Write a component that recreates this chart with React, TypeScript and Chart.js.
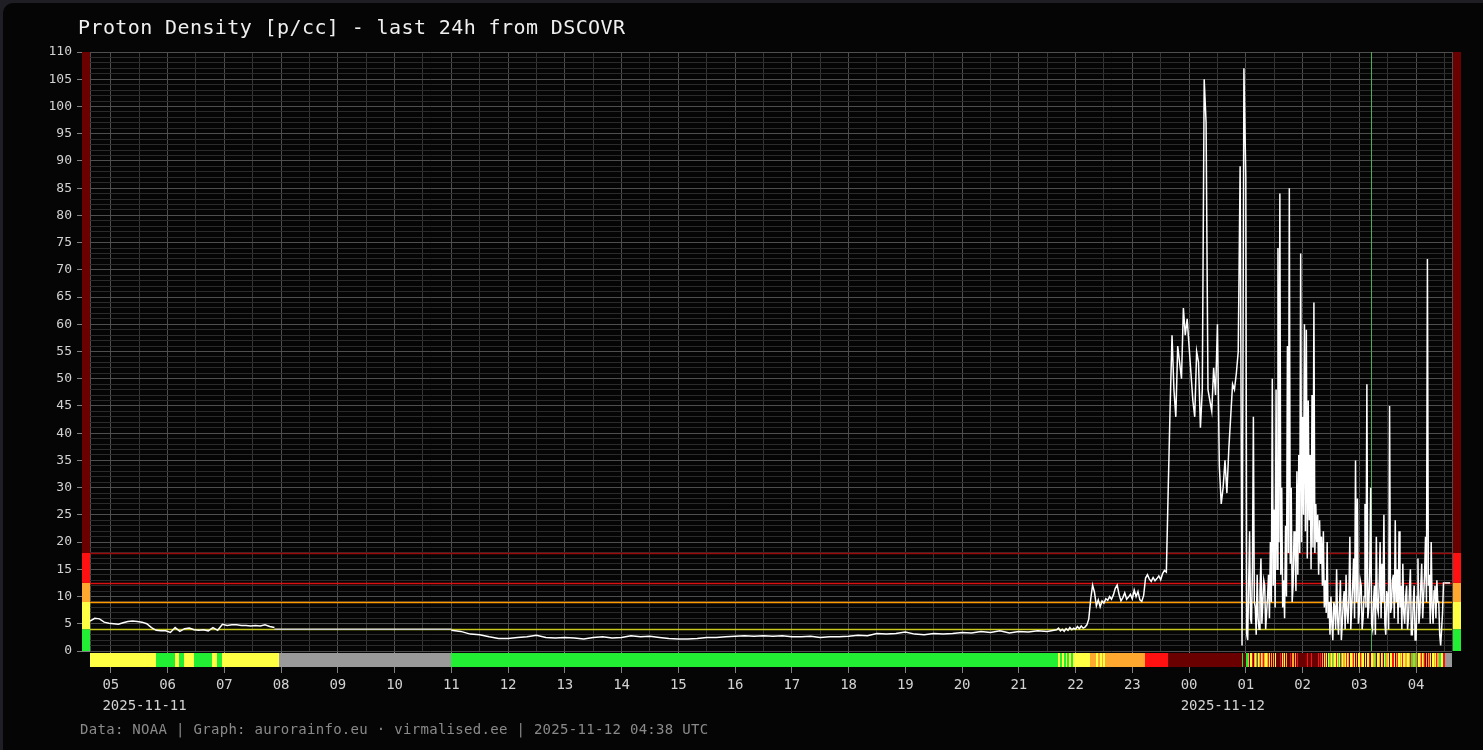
import React, { useEffect, useRef } from "react";
import { Chart, registerables } from "chart.js";

Chart.register(...registerables);

// ---------- text ----------
const TITLE = "Proton Density [p/cc] - last 24h from DSCOVR";
const FOOTER = "Data: NOAA | Graph: aurorainfo.eu · virmalised.ee | 2025-11-12 04:38 UTC";

// ---------- time window (day 0 = 2025-11-11, day 1 = 2025-11-12) ----------
const WINDOW_START = "04:38";
const WINDOW_HOURS = 24;
const dateLabelTexts = ["2025-11-11", "2025-11-12"];
const dateLabelTimes = ["05:00", "00:00"];
const dateLabelDays = [0, 1];
const MARKER_TIME = "03:12"; // green vertical marker, day 1
const HOLD_UNTIL = "04:36"; // last value held until, day 1

// ---------- density levels ----------
const levelBounds = [4, 9, 12.5, 18];
const levelColors = ["#22ee33", "#ffff44", "#ffa830", "#ff1111", "#6a0000"];
const levelLineColors = ["#c8c81e", "#ff9900", "#d81010", "#9a0a0a"];
const NO_DATA_COLOR = "#9a9a9a";

// ---------- proton density series (p/cc) ----------
const morningStart = "04:38";
const morningStep = 5; // minutes
const morningDensity = [
  5.5, 6.0, 5.9, 5.3, 5.1, 5.0, 4.9, 5.2, 5.4, 5.5,
  5.4, 5.3, 5.0, 4.3, 3.8, 3.7, 3.7, 3.4, 4.3, 3.6,
  4.1, 4.2, 3.9, 3.8, 3.9, 3.7, 4.3, 3.8, 4.9, 4.7,
  4.8, 4.8, 4.7, 4.7, 4.6, 4.7, 4.6, 4.8, 4.5, 4.3,
];

const quietStart = "11:00";
const quietStep = 10;
const quietDensity = [
  3.8, 3.6, 3.1, 3.0, 2.6, 2.3, 2.3, 2.5, 2.6, 2.9,
  2.5, 2.4, 2.5, 2.4, 2.2, 2.5, 2.6, 2.4, 2.5, 2.8,
  2.6, 2.7, 2.5, 2.3, 2.2, 2.2, 2.3, 2.5, 2.5, 2.6,
  2.7, 2.8, 2.7, 2.8, 2.7, 2.8, 2.6, 2.6, 2.7, 2.5,
  2.6, 2.6, 2.7, 2.9, 2.8, 3.2, 3.1, 3.2, 3.5, 3.1,
  3.0, 3.2, 3.1, 3.2, 3.4, 3.3, 3.6, 3.4, 3.7, 3.3,
  3.6, 3.5, 3.7, 3.6,
];

const riseStart = "21:40";
const riseStep = 2;
const riseDensity = [
  3.9, 4.2, 3.7, 4.0, 3.6, 4.1, 3.8, 4.3, 3.9, 4.2,
  4.0, 4.5, 4.1, 4.6, 4.2, 4.4, 4.8, 5.9, 9.5, 12.1,
  10.8, 8.3, 9.4, 8.1, 9.2, 8.8, 9.6, 9.3, 10.0, 9.5,
  10.3, 11.5, 12.1, 10.4, 9.2, 9.8, 10.7, 9.5, 9.9, 10.4,
  9.6, 11.2, 10.0, 10.9, 9.4, 9.1, 10.2, 13.4, 14.0, 13.2,
  12.8, 13.5, 12.9, 13.3, 13.8, 13.1, 14.2, 14.8,
];

// 23:36 – 00:58, every 2 minutes
const stormAStart = "23:36";
const stormAStep = 2;
const stormADensity = [
  14.5, 30, 45, 58, 48, 43, 56, 53, 50, 63,
  58, 61, 56, 51, 46, 43, 55, 53, 41, 48,
  105, 97, 48, 46, 44, 52, 47, 60, 34, 27,
  30, 35, 29, 37, 43, 49, 48, 51, 55, 89,
  1, 107,
];

// 01:00 – 04:30 (day 1), every minute
const stormBStart = "01:00";
const stormBStep = 1;
const stormBDensity = [
  87, 3, 2, 12, 22, 6, 5, 15, 43, 9, 8, 3, 14, 6, 4, 11, 17, 5, 9, 13,
  12, 4, 7, 10, 14, 6, 20, 9, 50, 12, 26, 8, 48, 15, 74, 20, 84, 14, 30, 8,
  13, 6, 23, 10, 56, 18, 85, 16, 30, 9, 12, 22, 19, 11, 33, 14, 36, 18, 73, 20,
  43, 25, 60, 22, 59, 17, 46, 24, 36, 15, 47, 19, 64, 18, 27, 20, 25, 14, 24, 16,
  21, 12, 22, 8, 13, 7, 20, 6, 9, 3, 10, 5, 2, 9, 8, 4, 15, 6, 3, 8,
  13, 2, 5, 9, 11, 4, 14, 7, 5, 10, 21, 4, 8, 12, 17, 6, 35, 9, 28, 5,
  7, 13, 12, 4, 6, 10, 27, 8, 49, 6, 8, 14, 30, 5, 4, 9, 12, 3, 21, 8,
  7, 12, 20, 6, 16, 9, 25, 5, 3, 11, 10, 4, 45, 7, 8, 13, 14, 6, 24, 9,
  15, 5, 22, 8, 12, 4, 16, 7, 5, 10, 12, 4, 6, 11, 15, 3, 3, 9, 12, 2,
  2, 10, 17, 5, 7, 12, 16, 6, 10, 14, 21, 9, 72, 12, 14, 5, 20, 8, 5, 11,
  12, 6, 13, 9, 9, 3, 1, 4, 7, 12.5, 12.5,
];

// ---------- helpers ----------
const toMin = (hhmm: string, day = 0) => {
  const [h, m] = hhmm.split(":").map(Number);
  return day * 1440 + h * 60 + m;
};
const segment = (start: number, step: number, vals: (number | null)[]) =>
  vals.map((v, i) => ({ x: start + i * step, y: v }));

const WIN_MIN = toMin(WINDOW_START);
const WIN_MAX = WIN_MIN + WINDOW_HOURS * 60;

const morningPts = segment(toMin(morningStart), morningStep, morningDensity);
const gapStart = morningPts[morningPts.length - 1].x;
const stormBPts = segment(toMin(stormBStart, 1), stormBStep, stormBDensity);
const lastPt = stormBPts[stormBPts.length - 1];

const points: { x: number; y: number | null }[] = [
  ...morningPts,
  { x: gapStart + morningStep, y: null },
  ...segment(toMin(quietStart), quietStep, quietDensity),
  ...segment(toMin(riseStart), riseStep, riseDensity),
  ...segment(toMin(stormAStart), stormAStep, stormADensity),
  ...stormBPts,
  { x: lastPt.x + stormBStep, y: null },
];
const gapLine = [
  { x: gapStart, y: levelBounds[0] },
  { x: toMin(quietStart), y: levelBounds[0] },
];
const holdLine = [
  { x: lastPt.x, y: lastPt.y },
  { x: toMin(HOLD_UNTIL, 1), y: lastPt.y },
];

const levelColor = (v: number | null) => {
  if (v === null || v === undefined) return NO_DATA_COLOR;
  for (let i = 0; i < levelBounds.length; i++) if (v < levelBounds[i]) return levelColors[i];
  return levelColors[levelColors.length - 1];
};
const hourLabel = (v: number) => String(Math.floor(v / 60) % 24).padStart(2, "0");

const FONT = "'DejaVu Sans Mono', monospace";
const MAJOR_GRID = "#4e4e4e";
const MINOR_GRID = "#2b2b2b";
const HALF_GRID = "#353535";
const TICK_MARK = "#808080";
const LABEL_COLOR = "#d2d2d2";

const decorPlugin = {
  id: "decor",
  beforeDatasetsDraw(chart: any) {
    const { ctx, chartArea: a, scales } = chart;
    const x = scales.x, y = scales.y;
    ctx.save();
    ctx.beginPath();
    ctx.rect(a.left, a.top, a.right - a.left, a.bottom - a.top);
    ctx.clip();
    levelBounds.forEach((b, i) => {
      const py = Math.round(y.getPixelForValue(b)) + 0.5;
      ctx.strokeStyle = levelLineColors[i];
      ctx.lineWidth = 1.5;
      ctx.beginPath();
      ctx.moveTo(a.left, py);
      ctx.lineTo(a.right, py);
      ctx.stroke();
    });
    const mx = Math.round(x.getPixelForValue(toMin(MARKER_TIME, 1))) + 0.5;
    ctx.strokeStyle = "#4caf50";
    ctx.lineWidth = 1;
    ctx.beginPath();
    ctx.moveTo(mx, a.top);
    ctx.lineTo(mx, a.bottom);
    ctx.stroke();
    ctx.restore();
  },
  afterDatasetsDraw(chart: any) {
    const { ctx, chartArea: a, scales } = chart;
    const x = scales.x, y = scales.y;
    ctx.save();
    // side level bands
    const edges = [y.min, ...levelBounds, y.max];
    for (let i = 0; i < levelColors.length; i++) {
      const top = y.getPixelForValue(edges[i + 1]);
      const bot = y.getPixelForValue(edges[i]);
      ctx.fillStyle = levelColors[i];
      ctx.fillRect(a.left - 8, top, 8, bot - top);
      ctx.fillRect(a.right + 1, top, 8, bot - top);
    }
    // bottom level bar
    const barTop = a.bottom + 2;
    const barH = 14;
    ctx.fillStyle = NO_DATA_COLOR;
    ctx.fillRect(a.left, barTop, a.right - a.left, barH);
    for (let i = 0; i < points.length; i++) {
      const p = points[i];
      const x0 = x.getPixelForValue(p.x);
      const x1 = i + 1 < points.length ? x.getPixelForValue(points[i + 1].x) : a.right;
      ctx.fillStyle = levelColor(p.y);
      ctx.fillRect(Math.floor(x0), barTop, Math.max(1, Math.round(x1) - Math.floor(x0)), barH);
    }
    // date labels under hour labels
    ctx.font = `14px ${FONT}`;
    ctx.fillStyle = LABEL_COLOR;
    ctx.textAlign = "left";
    ctx.textBaseline = "alphabetic";
    dateLabelTexts.forEach((txt, i) => {
      const v = toMin(dateLabelTimes[i], dateLabelDays[i]);
      const px = x.getPixelForValue(v);
      const w = ctx.measureText(hourLabel(v)).width;
      ctx.fillText(txt, px - w / 2, 709.5);
    });
    ctx.restore();
  },
};

export default function App() {
  const ref = useRef<HTMLCanvasElement>(null);
  useEffect(() => {
    document.body.style.margin = "0";
    const canvas = ref.current!;
    const chart = new Chart(canvas, {
      type: "line",
      data: {
        datasets: [
          {
            data: points as any,
            borderColor: "#ffffff",
            borderWidth: 1.5,
            pointRadius: 0,
            spanGaps: false,
            tension: 0,
          },
          {
            data: gapLine as any,
            borderColor: "#cfcfcf",
            borderWidth: 1.4,
            pointRadius: 0,
            tension: 0,
          },
          {
            data: holdLine as any,
            borderColor: "#ffffff",
            borderWidth: 1.5,
            pointRadius: 0,
            tension: 0,
          },
        ],
      },
      options: {
        responsive: false,
        animation: false,
        devicePixelRatio: 1,
        layout: { padding: { top: 52, right: 31, left: 0, bottom: 0 } },
        plugins: { legend: { display: false }, tooltip: { enabled: false }, title: { display: false } },
        scales: {
          x: {
            type: "linear",
            min: WIN_MIN,
            max: WIN_MAX,
            afterBuildTicks: (s: any) => {
              const t: { value: number }[] = [{ value: WIN_MIN }];
              for (let v = Math.ceil(WIN_MIN / 30) * 30; v < WIN_MAX; v += 30) if (v > WIN_MIN) t.push({ value: v });
              t.push({ value: WIN_MAX });
              s.ticks = t;
            },
            afterFit: (s: any) => {
              s.height = 99;
            },
            border: { display: false },
            grid: {
              color: (c: any) => {
                const v = c.tick?.value;
                if (v === WIN_MIN || v === WIN_MAX) return MAJOR_GRID;
                return v % 60 === 0 ? MAJOR_GRID : HALF_GRID;
              },
              tickColor: (c: any) => (c.tick?.value % 60 === 0 ? TICK_MARK : "rgba(0,0,0,0)"),
              tickLength: 22,
              lineWidth: 1,
            },
            ticks: {
              autoSkip: false,
              maxRotation: 0,
              padding: 4,
              color: LABEL_COLOR,
              font: { family: FONT, size: 14 },
              callback: (v: any) => (Number(v) % 60 === 0 ? hourLabel(Number(v)) : ""),
            },
          },
          y: {
            type: "linear",
            min: 0,
            max: 110,
            afterFit: (s: any) => {
              s.width = 90;
            },
            border: { display: false },
            grid: {
              color: (c: any) => (c.tick?.value % 5 === 0 ? MAJOR_GRID : MINOR_GRID),
              tickColor: (c: any) => (c.tick?.value % 5 === 0 ? TICK_MARK : "rgba(0,0,0,0)"),
              tickLength: 13,
              lineWidth: 1,
            },
            ticks: {
              stepSize: 1,
              autoSkip: false,
              padding: 5,
              color: LABEL_COLOR,
              font: { family: FONT, size: 13 },
              callback: (v: any) => (Number(v) % 5 === 0 ? String(v) : ""),
            },
          },
        },
      },
      plugins: [decorPlugin],
    });
    return () => chart.destroy();
  }, []);

  return (
    <div
      style={{
        position: "fixed",
        left: 0,
        top: 0,
        width: 1483,
        height: 750,
        background: "#1f1e25",
        overflow: "hidden",
      }}
    >
      <div
        style={{
          position: "absolute",
          left: 3,
          top: 3,
          width: 1500,
          height: 770,
          background: "#050505",
          borderRadius: 10,
        }}
      />
      <canvas
        ref={ref}
        width={1483}
        height={750}
        style={{ position: "absolute", left: 0, top: 0, width: 1483, height: 750 }}
      />
      <div
        style={{
          position: "absolute",
          left: 78,
          top: 16.5,
          fontFamily: FONT,
          fontSize: 20,
          lineHeight: "20px",
          letterSpacing: "0.4px",
          color: "#f0f0f0",
          whiteSpace: "pre",
        }}
      >
        {TITLE}
      </div>
      <div
        style={{
          position: "absolute",
          left: 80,
          top: 722,
          fontFamily: FONT,
          fontSize: 14,
          lineHeight: "14px",
          letterSpacing: "0.3px",
          color: "#8a8a8a",
          whiteSpace: "pre",
        }}
      >
        {FOOTER}
      </div>
    </div>
  );
}
